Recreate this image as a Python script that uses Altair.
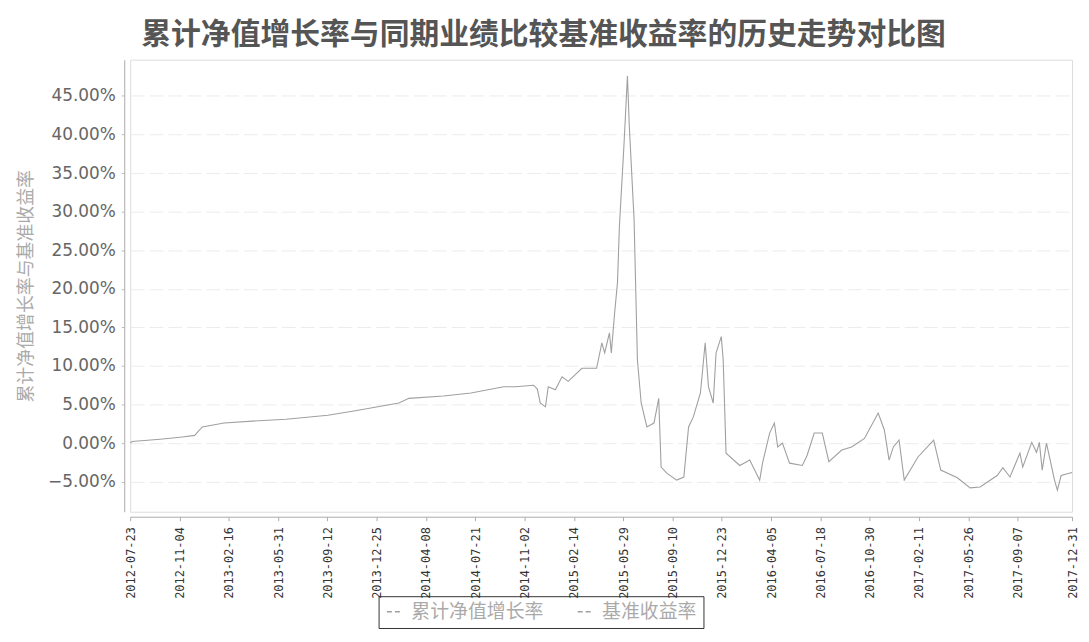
import altair as alt
import pandas as pd

dates = [
    "2012-07-23", "2012-07-27", "2012-09-24", "2012-11-10", "2012-12-06", "2012-12-22",
    "2013-02-06", "2013-04-20", "2013-06-17", "2013-09-13", "2013-11-10",
    "2014-02-10", "2014-03-03", "2014-05-15", "2014-07-12", "2014-09-19", "2014-10-14",
    "2014-11-21", "2014-11-29", "2014-12-05", "2014-12-16", "2014-12-22",
    "2015-01-06", "2015-01-20", "2015-02-02", "2015-03-03", "2015-04-03", "2015-04-14",
    "2015-04-20", "2015-04-30", "2015-05-04", "2015-05-11", "2015-05-17", "2015-05-21",
    "2015-05-31", "2015-06-07", "2015-06-11", "2015-06-21", "2015-06-28", "2015-07-06",
    "2015-07-18", "2015-08-02", "2015-08-12", "2015-08-17", "2015-08-29", "2015-09-19",
    "2015-10-04", "2015-10-14", "2015-10-24", "2015-11-08", "2015-11-18", "2015-11-25",
    "2015-12-05", "2015-12-11", "2015-12-22", "2015-12-26",
    "2016-01-01", "2016-01-30", "2016-02-20", "2016-03-12", "2016-03-18", "2016-04-02",
    "2016-04-12", "2016-04-19", "2016-04-29", "2016-05-14", "2016-06-10", "2016-06-20",
    "2016-07-05", "2016-07-22", "2016-08-05", "2016-09-01", "2016-09-22", "2016-10-19",
    "2016-11-17", "2016-11-30", "2016-12-10", "2016-12-19", "2016-12-31",
    "2017-01-11", "2017-02-09", "2017-03-14", "2017-03-29", "2017-05-03", "2017-05-30",
    "2017-06-20", "2017-07-26", "2017-08-07", "2017-08-22", "2017-09-12", "2017-09-18",
    "2017-10-07", "2017-10-17", "2017-10-23", "2017-10-29", "2017-11-07", "2017-11-24",
    "2017-11-30", "2017-12-08", "2017-12-25", "2017-12-31",
]
fund = [
    0.0, 0.2, 0.5, 0.8, 1.0, 2.1,
    2.6, 2.9, 3.1, 3.6, 4.2,
    5.2, 5.8, 6.1, 6.5, 7.3, 7.3,
    7.5, 7.0, 5.2, 4.7, 7.3,
    6.9, 8.6, 8.0, 9.7, 9.7, 13.0,
    11.7, 14.3, 11.7, 16.9, 20.8, 28.0,
    39.0, 47.6, 41.0, 29.0, 10.8, 5.2,
    2.1, 2.6, 5.8, -3.1, -3.9, -4.8,
    -4.4, 2.1, 3.4, 6.5, 13.0, 7.3,
    5.2, 11.7, 13.8, 10.8,
    -1.3, -2.9, -2.2, -4.8, -2.6, 1.3,
    2.6, -0.5, 0.0, -2.6, -2.9, -1.6,
    1.3, 1.3, -2.4, -0.9, -0.5, 0.6,
    3.9, 1.7, -2.2, -0.5, 0.4,
    -4.8, -1.8, 0.4, -3.5, -4.5, -5.8,
    -5.7, -4.2, -3.2, -4.4, -1.3, -3.1,
    0.1, -1.2, 0.1, -3.5, 0.0, -4.8,
    -6.1, -4.2, -3.9, -3.8,
]
series_names = ["累计净值增长率", "基准收益率"]
tick_dates = [
    "2012-07-23", "2012-11-04", "2013-02-16", "2013-05-31", "2013-09-12", "2013-12-25",
    "2014-04-08", "2014-07-21", "2014-11-02", "2015-02-14", "2015-05-29", "2015-09-10",
    "2015-12-23", "2016-04-05", "2016-07-18", "2016-10-30", "2017-02-11", "2017-05-26",
    "2017-09-07", "2017-12-31",
]
y_ticks = [-5, 0, 5, 10, 15, 20, 25, 30, 35, 40, 45]

df = pd.DataFrame({"date": dates, "value": [v / 100 for v in fund], "series": series_names[0]})

tick_vals = [alt.DateTime(year=int(d[:4]), month=int(d[5:7]), date=int(d[8:10])) for d in tick_dates]

line = alt.Chart(df).mark_line(strokeWidth=1.1).encode(
    x=alt.X(
        "date:T",
        scale=alt.Scale(domain=[alt.DateTime(year=2012, month=7, date=23),
                                alt.DateTime(year=2017, month=12, date=31)], nice=False),
        axis=alt.Axis(
            values=tick_vals, format="%Y-%m-%d", labelAngle=270, labelAlign="right",
            labelBaseline="middle", labelFont="DejaVu Sans Mono", labelFontSize=12,
            labelColor="#333", labelPadding=6, tickSize=4, tickColor="#aaa",
            domainColor="#aaa", offset=5, grid=False, title=None, labelOverlap=False,
            labelBound=False,
        ),
    ),
    y=alt.Y(
        "value:Q",
        scale=alt.Scale(domain=[-0.089, 0.497], nice=False, zero=False),
        axis=alt.Axis(
            values=[v / 100 for v in y_ticks], format=".2%", labelFont="DejaVu Sans",
            labelFontSize=17, labelColor="#666", labelPadding=6, tickSize=3,
            tickColor="#bbb", domainColor="#aaa", offset=6, gridColor="#ececec",
            gridDash=[14, 5], title="累计净值增长率与基准收益率", titleFont="Noto Sans CJK SC",
            titleFontSize=18, titleFontWeight="normal", titleColor="#aaa", titlePadding=12,
        ),
    ),
    color=alt.Color(
        "series:N",
        scale=alt.Scale(domain=series_names, range=["#a0a0a0", "#a0a0a0"]),
        legend=alt.Legend(
            orient="none", legendX=250, legendY=540, direction="horizontal", title=None,
            symbolType="stroke", symbolDash=[5, 3], symbolStrokeWidth=1.5, symbolSize=200,
            labelFont="Noto Sans CJK SC", labelFontSize=19, labelColor="#aaa",
            strokeColor="#333", padding=6, columnPadding=30, labelOffset=8,
        ),
    ),
)

chart = line.properties(
    width=948, height=455,
    title=alt.TitleParams(
        "累计净值增长率与同期业绩比较基准收益率的历史走势对比图",
        font="Noto Sans CJK SC", fontSize=30, fontWeight="bold", color="#555",
        anchor="middle", offset=10, dx=-58,
    ),
    autosize=alt.AutoSizeParams(type="none"),
    padding={"left": 123, "top": 50, "right": 9, "bottom": 120},
).configure_view(stroke="#aaa", strokeWidth=1).configure(background="white")

chart.save("out.html", embed_options={"renderer": "svg", "actions": False})
